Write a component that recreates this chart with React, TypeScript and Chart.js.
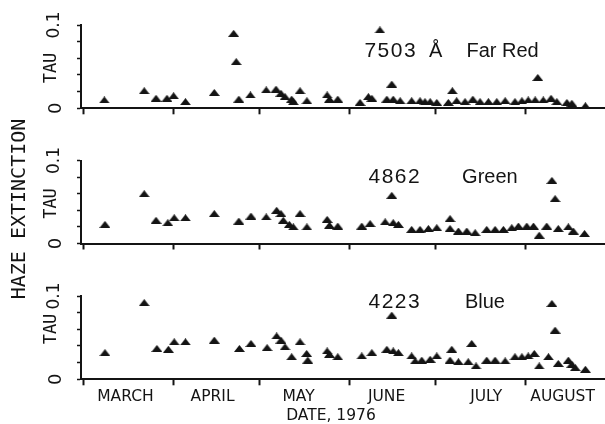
import React, { useEffect, useRef } from 'react';
import { Chart, registerables } from 'chart.js';

Chart.register(...registerables);

// ---- Data (x = days after 1 March 1976, y = haze optical depth tau) ----
const farRedDays = [7.2, 21.0, 25.1, 28.9, 31.2, 35.3, 45.3, 52.0, 52.9, 53.8, 57.8, 63.3, 66.7, 68.4, 69.8, 72.1, 72.7, 75.0, 77.4, 84.4, 85.2, 88.1, 95.8, 98.7, 99.9, 102.7, 105.1, 106.8, 107.3, 109.7, 113.7, 116.6, 118.3, 120.1, 122.4, 126.4, 127.8, 129.3, 132.2, 134.9, 137.4, 140.3, 143.2, 146.1, 149.5, 151.9, 154.1, 156.5, 157.4, 159.3, 162.0, 164.0, 167.5, 169.2, 173.9];
const farRedTau = [0.010, 0.021, 0.012, 0.012, 0.015, 0.008, 0.019, 0.090, 0.056, 0.011, 0.016, 0.022, 0.023, 0.018, 0.014, 0.011, 0.008, 0.021, 0.009, 0.016, 0.011, 0.011, 0.007, 0.014, 0.012, 0.094, 0.011, 0.029, 0.011, 0.009, 0.009, 0.009, 0.008, 0.008, 0.007, 0.007, 0.021, 0.009, 0.008, 0.011, 0.008, 0.008, 0.008, 0.009, 0.008, 0.009, 0.010, 0.010, 0.037, 0.010, 0.012, 0.008, 0.007, 0.006, 0.003];

const greenDays = [7.4, 21.0, 25.1, 29.2, 31.4, 35.3, 45.3, 53.8, 58.0, 63.3, 66.9, 68.4, 69.2, 71.3, 72.7, 75.0, 77.4, 84.4, 85.2, 88.1, 96.4, 99.3, 104.5, 106.8, 107.3, 109.1, 113.7, 116.6, 119.5, 122.4, 127.0, 127.0, 129.9, 132.8, 135.7, 139.7, 142.6, 145.5, 148.4, 150.7, 153.6, 155.9, 157.9, 160.5, 162.3, 163.4, 164.5, 168.0, 169.7, 173.6];
const greenTau = [0.023, 0.060, 0.028, 0.025, 0.031, 0.031, 0.036, 0.027, 0.033, 0.032, 0.040, 0.036, 0.028, 0.023, 0.020, 0.036, 0.020, 0.029, 0.022, 0.021, 0.021, 0.024, 0.026, 0.058, 0.025, 0.023, 0.017, 0.017, 0.018, 0.019, 0.030, 0.018, 0.015, 0.015, 0.013, 0.017, 0.017, 0.017, 0.019, 0.021, 0.021, 0.021, 0.010, 0.021, 0.076, 0.054, 0.018, 0.020, 0.015, 0.012];

const blueDays = [7.4, 21.0, 25.4, 29.4, 31.4, 35.3, 45.3, 54.0, 58.0, 63.6, 66.9, 68.4, 69.8, 72.1, 75.0, 77.3, 77.7, 84.4, 85.2, 88.1, 96.4, 99.9, 105.1, 106.8, 107.3, 109.1, 113.7, 114.9, 117.2, 120.1, 122.4, 127.0, 127.6, 129.9, 133.3, 134.5, 136.0, 139.7, 142.6, 146.1, 149.5, 151.9, 154.1, 156.2, 157.9, 161.1, 162.3, 163.4, 164.5, 168.0, 169.2, 170.4, 173.9];
const blueTau = [0.032, 0.092, 0.037, 0.036, 0.045, 0.045, 0.047, 0.037, 0.043, 0.038, 0.052, 0.047, 0.039, 0.027, 0.045, 0.031, 0.023, 0.034, 0.030, 0.027, 0.028, 0.032, 0.036, 0.077, 0.034, 0.032, 0.028, 0.022, 0.023, 0.024, 0.028, 0.023, 0.036, 0.021, 0.021, 0.043, 0.016, 0.023, 0.023, 0.022, 0.027, 0.027, 0.028, 0.031, 0.016, 0.027, 0.091, 0.059, 0.019, 0.023, 0.018, 0.014, 0.012];

const monthStartDays = [0, 31, 61, 92, 122, 153];
const monthNames = ['MARCH', 'APRIL', 'MAY', 'JUNE', 'JULY', 'AUGUST'];
const monthLabelDays = [14.5, 44.7, 74.5, 105, 139.5, 166];

const wavelengths = ['7503', '4862', '4223'];
const wavelengthUnits = ['Å', '', ''];
const colourNames = ['Far Red', 'Green', 'Blue'];
const wavelengthDays = [106.2, 107.6, 107.6];
const unitDays = [122, 0, 0];
const colourDays = [145.2, 140.8, 139.1];
const labelTau = [0.062, 0.0725, 0.085];

const yAxisTitle = 'TAU';
const yTopLabel = '0.1';
const yZeroLabel = '0';
const sideTitle = 'HAZE EXTINCTION';
const xTitle = 'DATE, 1976';

// ---- Layout ----
const W = 605;
const H = 424;
const PLOT_LEFT = 81;
const Y_W = 6;
const X_H = 30;
const panelTop = [25, 160.5, 296];
const panelBottom = [108.3, 243.5, 379.3];
const tauOffset = [43, 43, 33];
const INK = '#141414';

const series = [
  { days: farRedDays, tau: farRedTau },
  { days: greenDays, tau: greenTau },
  { days: blueDays, tau: blueTau },
];

function rotText(ctx: CanvasRenderingContext2D, text: string, x: number, y: number, font: string) {
  ctx.save();
  ctx.translate(x, y);
  ctx.rotate(-Math.PI / 2);
  ctx.font = font;
  ctx.textAlign = 'center';
  ctx.textBaseline = 'middle';
  ctx.fillText(text, 0, 0);
  ctx.restore();
}

function annotPlugin(p: number) {
  return {
    id: 'annot' + p,
    afterDraw(chart: any) {
      const ctx: CanvasRenderingContext2D = chart.ctx;
      const xs = chart.scales.x;
      const ys = chart.scales.y;
      ctx.save();
      ctx.fillStyle = INK;
      rotText(ctx, yZeroLabel, 56, ys.getPixelForValue(0), '18px "DejaVu Sans"');
      rotText(ctx, yTopLabel, 55, ys.getPixelForValue(0.1), '17px "DejaVu Sans"');
      rotText(ctx, yAxisTitle, 52, ys.getPixelForValue(0.1) + tauOffset[p], '17px "DejaVu Sans Mono"');

      const yText = ys.getPixelForValue(labelTau[p]);
      ctx.textAlign = 'center';
      ctx.textBaseline = 'alphabetic';
      ctx.font = '21px "Liberation Sans"';
      (ctx as any).letterSpacing = '1.5px';
      ctx.fillText(wavelengths[p], xs.getPixelForValue(wavelengthDays[p]) + 0.75, yText);
      (ctx as any).letterSpacing = '0px';
      ctx.font = '20px "Liberation Sans"';
      if (wavelengthUnits[p]) {
        ctx.fillText(wavelengthUnits[p], xs.getPixelForValue(unitDays[p]), yText);
      }
      ctx.fillText(colourNames[p], xs.getPixelForValue(colourDays[p]), yText);

      if (p === 2) {
        rotText(ctx, sideTitle, 20, 209, '20px "DejaVu Sans Mono"');
        ctx.font = '15.5px "DejaVu Sans"';
        ctx.textAlign = 'center';
        ctx.textBaseline = 'middle';
        ctx.fillText(xTitle, 331, 416);
      }
      ctx.restore();
    },
  };
}

export default function App() {
  const r0 = useRef<HTMLCanvasElement>(null);
  const r1 = useRef<HTMLCanvasElement>(null);
  const r2 = useRef<HTMLCanvasElement>(null);

  useEffect(() => {
    const tri = document.createElement('canvas');
    tri.width = 11;
    tri.height = 7;
    const tc = tri.getContext('2d')!;
    tc.fillStyle = INK;
    tc.beginPath();
    tc.moveTo(0, 7);
    tc.lineTo(5.5, 0);
    tc.lineTo(11, 7);
    tc.closePath();
    tc.fill();

    const allTicks = [...monthStartDays, ...monthLabelDays].sort((a, b) => a - b);
    const refs = [r0, r1, r2];
    const charts = refs.map((ref, p) => {
      const s = series[p];
      const isBottom = p === 2;
      return new Chart(ref.current!, {
        type: 'scatter',
        data: {
          datasets: [
            {
              data: s.days.map((d, i) => ({ x: d, y: s.tau[i] })),
              pointStyle: tri as any,
              pointRadius: 5,
              clip: false as any,
              showLine: false,
            },
          ],
        },
        options: {
          responsive: false,
          animation: false,
          events: [],
          layout: {
            autoPadding: false,
            padding: {
              left: PLOT_LEFT - Y_W,
              right: 0,
              top: panelTop[p],
              bottom: H - panelBottom[p] - X_H,
            },
          },
          plugins: { legend: { display: false }, tooltip: { enabled: false } },
          scales: {
            x: {
              type: 'linear',
              min: -0.9,
              max: 180.7,
              afterFit: (sc: any) => {
                sc.height = X_H;
              },
              afterBuildTicks: (sc: any) => {
                sc.ticks = allTicks.map((v) => ({ value: v }));
              },
              ticks: {
                display: isBottom,
                autoSkip: false,
                maxRotation: 0,
                minRotation: 0,
                padding: 2,
                color: INK,
                font: { family: '"DejaVu Sans"', size: 15.5 },
                callback: (v: any) => {
                  const i = monthLabelDays.indexOf(Number(v));
                  return i >= 0 ? monthNames[i] : '';
                },
              },
              grid: {
                drawOnChartArea: false,
                drawTicks: true,
                tickLength: 6,
                tickWidth: 2,
                tickColor: (ctx: any) =>
                  ctx.tick && monthStartDays.includes(ctx.tick.value) ? INK : 'rgba(0,0,0,0)',
              },
              border: { display: true, color: INK, width: 2 },
            },
            y: {
              min: 0,
              max: 0.1,
              afterFit: (sc: any) => {
                sc.width = Y_W;
              },
              ticks: { display: false, stepSize: 0.02 },
              grid: {
                drawOnChartArea: false,
                drawTicks: true,
                tickLength: 4,
                tickWidth: 1.5,
                color: INK,
              },
              border: { display: true, color: INK, width: 2 },
            },
          },
        },
        plugins: [annotPlugin(p)],
      });
    });
    return () => charts.forEach((c) => c.destroy());
  }, []);

  const cs: React.CSSProperties = { position: 'absolute', left: 0, top: 0, width: W, height: H };
  return (
    <div style={{ position: 'absolute', left: 0, top: 0, width: W, height: H, background: '#fff' }}>
      <canvas ref={r0} width={W} height={H} style={cs} />
      <canvas ref={r1} width={W} height={H} style={cs} />
      <canvas ref={r2} width={W} height={H} style={cs} />
    </div>
  );
}
